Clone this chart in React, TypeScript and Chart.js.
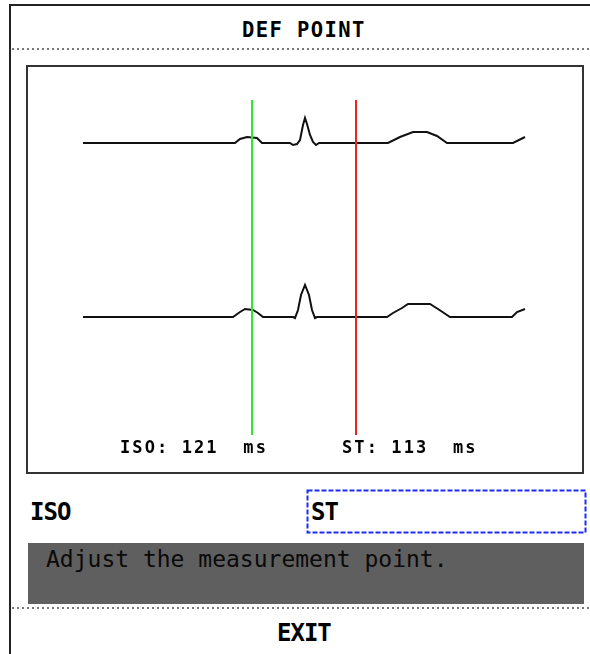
import React, { useEffect, useRef } from "react";
import { Chart, registerables } from "chart.js";

Chart.register(...registerables);

// ---- Data ----
// Time axis in ms (4 ms per sample column), amplitude in mV
const lead1TimeMs = [220, 828, 848, 876, 916, 936, 1048, 1060, 1076, 1088, 1100, 1108, 1116, 1128, 1140, 1152, 1164, 1440, 1488, 1540, 1596, 1636, 1676, 1940, 1988];
const lead1mV = [0, 0, 0.1, 0.15, 0.125, 0, 0, -0.05, -0.025, 0.075, 0.45, 0.625, 0.475, 0.2, 0.025, -0.05, 0, 0, 0.15, 0.275, 0.275, 0.175, 0, 0, 0.15];

const lead2TimeMs = [220, 820, 848, 868, 900, 920, 940, 1060, 1068, 1080, 1092, 1108, 1124, 1136, 1148, 1156, 1436, 1460, 1496, 1520, 1608, 1640, 1688, 1936, 1956, 1988];
const lead2mV = [0, 0, 0.125, 0.2, 0.175, 0.1, 0, 0, -0.025, 0.175, 0.55, 0.8, 0.55, 0.175, -0.025, 0, 0, 0.1, 0.225, 0.325, 0.325, 0.2, 0, 0, 0.125, 0.2];

const markerTimesMs = [896, 1312]; // ISO, ST cursors
const markerNames = ["ISO", "ST"];
const markerSpanMv = [1.075, -7.3]; // top, bottom in lead-I mV units
const markerValuesMs = [121, 113];

const timeRangeMs = [0, 2216];
const lead1RangeMv = [-8.225, 1.9];
const lead2RangeMv = [-3.875, 6.25];

const titleText = "DEF POINT";
const hintText = "Adjust the measurement point.";
const exitText = "EXIT";

export default function App() {
  const canvasRef = useRef<HTMLCanvasElement>(null);

  useEffect(() => {
    const canvas = canvasRef.current;
    if (!canvas) return;
    const toPts = (t: number[], v: number[]) => t.map((x, i) => ({ x, y: v[i] }));
    const markerColors = ["#2ee82e", "#ee2020"];
    const chart = new Chart(canvas, {
      type: "line",
      data: {
        datasets: [
          ...markerTimesMs.map((t, i) => ({
            label: markerNames[i],
            data: [
              { x: t, y: markerSpanMv[0] },
              { x: t, y: markerSpanMv[1] },
            ],
            yAxisID: "yA",
            borderColor: markerColors[i],
            borderWidth: 2,
            pointRadius: 0,
            tension: 0,
            order: 1,
          })),
          {
            label: "Lead 1",
            data: toPts(lead1TimeMs, lead1mV),
            yAxisID: "yA",
            borderColor: "#111",
            borderWidth: 2,
            pointRadius: 0,
            tension: 0,
            order: 2,
          },
          {
            label: "Lead 2",
            data: toPts(lead2TimeMs, lead2mV),
            yAxisID: "yB",
            borderColor: "#111",
            borderWidth: 2,
            pointRadius: 0,
            tension: 0,
            order: 2,
          },
        ],
      },
      options: {
        animation: false,
        responsive: false,
        devicePixelRatio: 1,
        layout: { padding: 0 },
        plugins: { legend: { display: false }, tooltip: { enabled: false }, title: { display: false } },
        scales: {
          x: { type: "linear", min: timeRangeMs[0], max: timeRangeMs[1], display: false },
          yA: { type: "linear", min: lead1RangeMv[0], max: lead1RangeMv[1], display: false },
          yB: { type: "linear", min: lead2RangeMv[0], max: lead2RangeMv[1], display: false },
        },
      },
    });
    return () => chart.destroy();
  }, []);

  const mono = '"DejaVu Sans Mono", "Liberation Mono", monospace';
  const abs = (s: React.CSSProperties): React.CSSProperties => ({ position: "absolute", whiteSpace: "pre", margin: 0, ...s });
  const dotted = "repeating-linear-gradient(to right, #777 0px, #777 2px, transparent 2px, transparent 5px)";

  return (
    <div style={{ position: "absolute", left: 0, top: 0, width: 590, height: 654, overflow: "hidden", background: "#fff", fontFamily: mono, color: "#000" }}>
      {/* outer frame */}
      <div style={abs({ left: 9, top: 4, width: 700, height: 700, borderLeft: "2px solid #222", borderTop: "2px solid #222" })} />
      {/* title */}
      <div style={abs({ left: 242, top: 19.5, fontSize: 20.5, lineHeight: "20.5px", fontWeight: "bold", letterSpacing: "1.4px" })}>{titleText}</div>
      <div style={abs({ left: 12, top: 48, width: 578, height: 2, background: dotted })} />
      {/* chart box */}
      <div style={abs({ left: 26, top: 65, width: 558, height: 409, border: "2px solid #333", boxSizing: "border-box" })} />
      <canvas ref={canvasRef} width={554} height={405} style={{ position: "absolute", left: 28, top: 67, width: 554, height: 405 }} />
      <div style={abs({ left: 120, top: 439, fontSize: 17, lineHeight: "17px", fontWeight: "bold", letterSpacing: "2.1px" })}>{`${markerNames[0]}: ${markerValuesMs[0]}  ms`}</div>
      <div style={abs({ left: 342, top: 439, fontSize: 17, lineHeight: "17px", fontWeight: "bold", letterSpacing: "2.1px" })}>{`${markerNames[1]}: ${markerValuesMs[1]}  ms`}</div>
      {/* selectors */}
      <div style={abs({ left: 30, top: 499.5, fontSize: 24, lineHeight: "24px", fontWeight: "bold", letterSpacing: "-1px" })}>{markerNames[0]}</div>
      <svg style={{ position: "absolute", left: 306, top: 489 }} width={282} height={45}>
        <rect x={1.5} y={1.5} width={278} height={42} fill="none" stroke="#1a2cf5" strokeWidth={2} strokeDasharray="5 2" />
      </svg>
      <div style={abs({ left: 311, top: 499.5, fontSize: 24, lineHeight: "24px", fontWeight: "bold", letterSpacing: "-1px" })}>{markerNames[1]}</div>
      {/* hint */}
      <div style={abs({ left: 28, top: 543, width: 556, height: 61, background: "#5f5f5f" })} />
      <div style={abs({ left: 46, top: 547.5, fontSize: 23, lineHeight: "23px", color: "#0a0a0a" })}>{hintText}</div>
      <div style={abs({ left: 12, top: 607, width: 578, height: 2, background: dotted })} />
      <div style={abs({ left: 277, top: 620.5, fontSize: 24, lineHeight: "24px", fontWeight: "bold", letterSpacing: "-1px" })}>{exitText}</div>
    </div>
  );
}
